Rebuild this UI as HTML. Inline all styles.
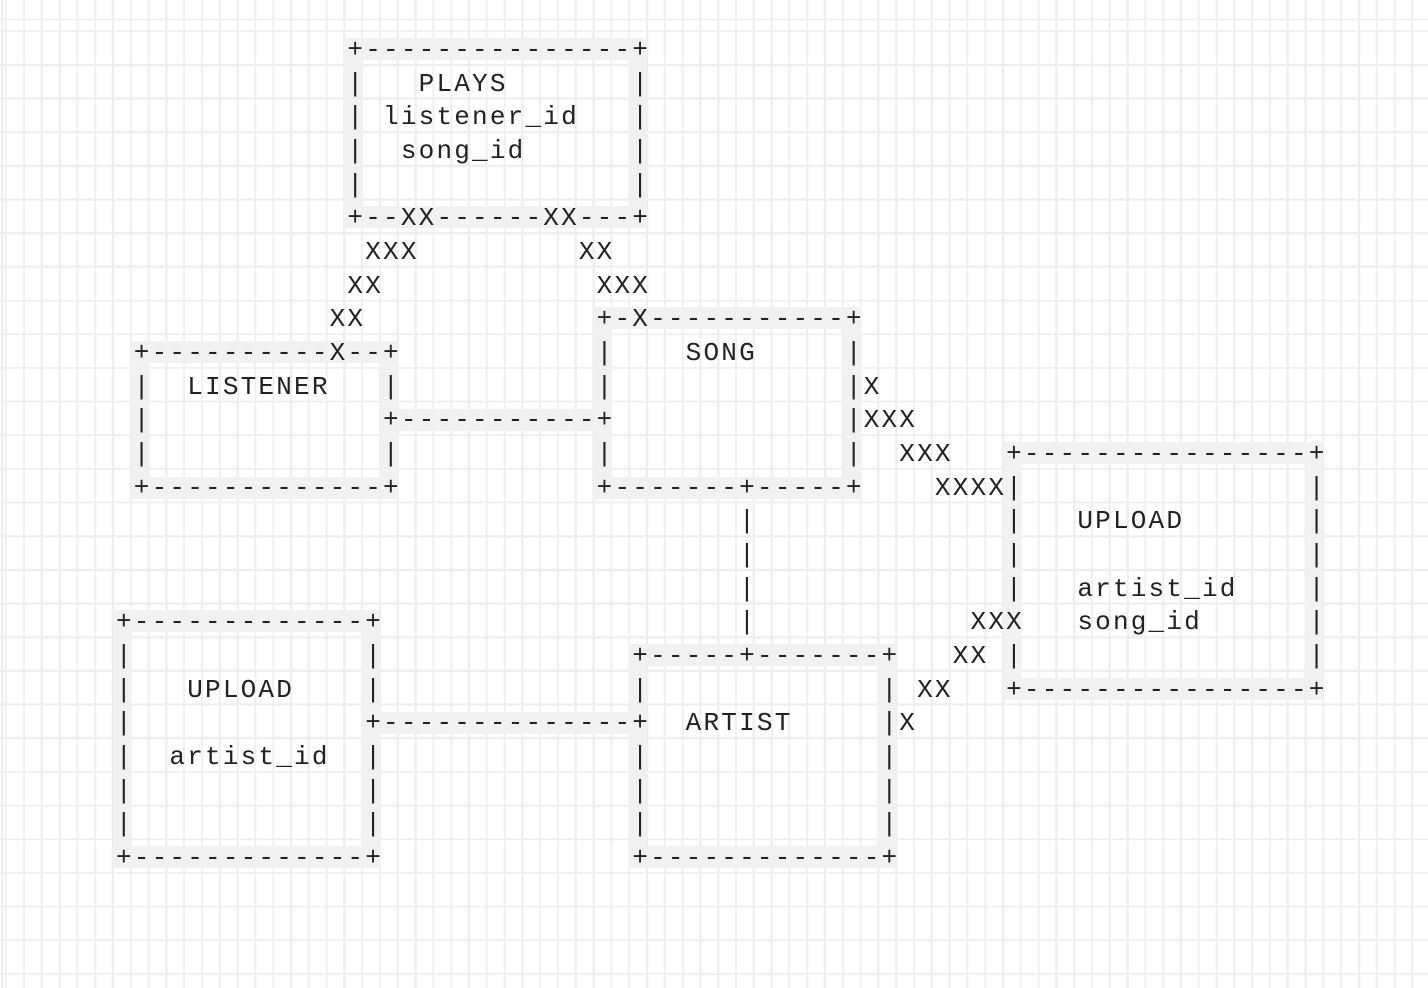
<!DOCTYPE html>
<html><head><meta charset="utf-8"><style>
html,body{margin:0;padding:0;}
body{width:1428px;height:988px;position:relative;overflow:hidden;background-color:#fff;
background-image:
repeating-linear-gradient(to right,#eeeeee 0,#eeeeee 2px,transparent 2px,transparent 17.8px),
repeating-linear-gradient(to bottom,#eeeeee 0,#eeeeee 2px,transparent 2px,transparent 33.67px);
background-position:5.2px 0,0 30.2px;}
.f{position:absolute;box-sizing:border-box;border-style:solid;border-color:#f1f1f1;border-width:22px 18px;}
.b{position:absolute;background:#f1f1f1;height:22px;}
pre{position:absolute;left:116px;top:34px;margin:0;font-family:"Liberation Mono",monospace;font-size:26px;letter-spacing:2.2px;line-height:33.67px;color:#222;}
</style></head><body>
<div class="f" style="left:344.4px;top:38px;width:302.6px;height:190px"></div>
<div class="f" style="left:130.8px;top:341px;width:267px;height:158px"></div>
<div class="f" style="left:593.6px;top:307px;width:267px;height:192px"></div>
<div class="f" style="left:1003px;top:442px;width:320.4px;height:258px"></div>
<div class="f" style="left:113px;top:610px;width:267px;height:258px"></div>
<div class="f" style="left:629.2px;top:644px;width:267px;height:224px"></div>
<div class="b" style="left:380px;top:409px;width:230px"></div>
<div class="b" style="left:362px;top:712px;width:285px"></div>
<pre>             +---------------+
             |   PLAYS       |
             | listener_id   |
             |  song_id      |
             |               |
             +--XX------XX---+
              XXX         XX
             XX            XXX
            XX             +-X-----------+
 +----------X--+           |    SONG     |
 |  LISTENER   |           |             |X
 |             +-----------+             |XXX
 |             |           |             |  XXX   +----------------+
 +-------------+           +-------+-----+    XXXX|                |
                                   |              |   UPLOAD       |
                                   |              |                |
                                   |              |   artist_id    |
+-------------+                    |            XXX   song_id      |
|             |              +-----+-------+   XX |                |
|   UPLOAD    |              |             | XX   +----------------+
|             +--------------+  ARTIST     |X
|  artist_id  |              |             |
|             |              |             |
|             |              |             |
+-------------+              +-------------+</pre>
</body></html>
